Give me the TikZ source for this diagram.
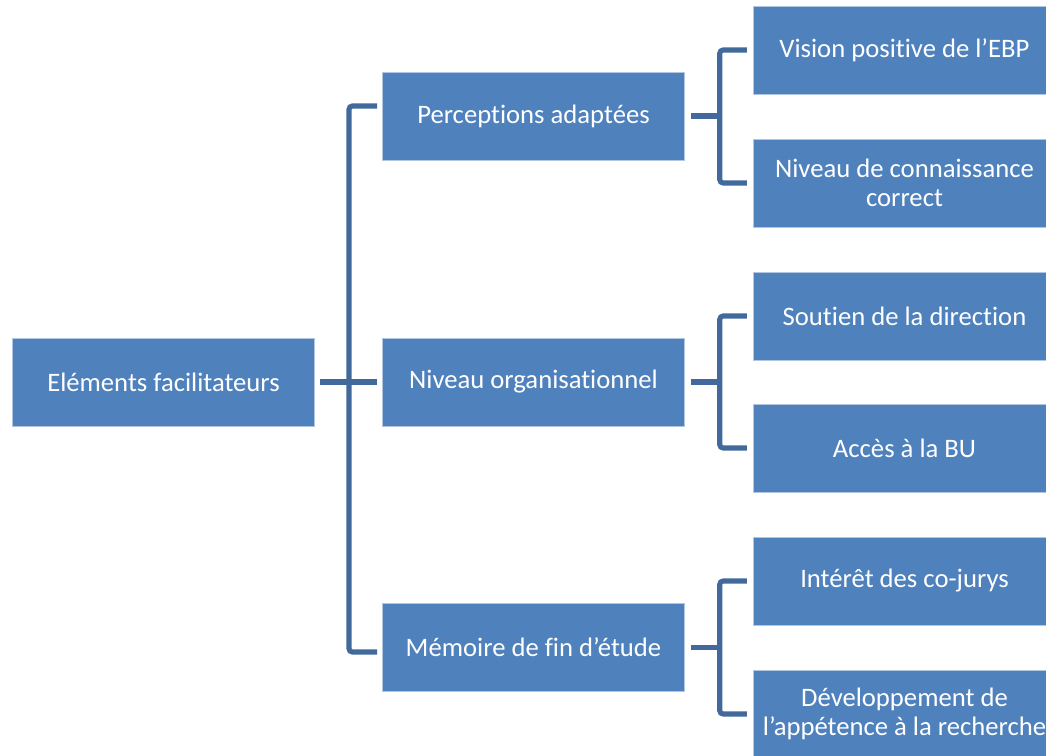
\documentclass[tikz,border=0pt]{standalone}
\usepackage{fontspec}
\setmainfont{Carlito}[Ligatures=NoCommon]
\usetikzlibrary{calc}
\definecolor{boxblue}{HTML}{4F81BD}
\definecolor{linkblue}{HTML}{41699C}
\begin{document}
\begin{tikzpicture}[x=0.75pt,y=-0.75pt,
    box/.style={rectangle,fill=boxblue,draw=white!55!boxblue,line width=0.6pt,
      text=white,minimum width=227pt,minimum height=66pt,inner sep=0pt,
      align=center,font=\fontsize{20}{22}\selectfont},
    link/.style={draw=linkblue,line width=3.8pt,rounded corners=2.5pt}]
  \useasboundingbox (0,0) rectangle (1046,756);

  \node[box] (root) at (163.5,382) {Eléments facilitateurs};
  \node[box] (perc) at (533.5,116) {Perceptions adaptées};
  \node[box] (orga) at (533.5,382) {Niveau organisationnel};
  \node[box] (mem) at (533.5,647.5) {Mémoire de fin d’étude};

  \node[box] (vision) at (904.5,50) {Vision positive de l’EBP};
  \node[box] (conn) at (904.5,183) {Niveau de connaissance\\correct};
  \node[box] (soutien) at (904.5,316) {Soutien de la direction};
  \node[box] (acces) at (904.5,448) {Accès à la BU};
  \node[box] (interet) at (904.5,581) {Intérêt des co-jurys};
  \node[box] (dev) at (904.5,714) {Développement de\\l’appétence à la recherche};

  \coordinate (spineT) at (349,106);
  \coordinate (spineB) at (349,652);
  \draw[link] ($(spineT)+(28,0)$) -- (spineT) -- (spineB) -- ($(spineB)+(28,0)$);
  \draw[link] ($(root.east)+(5,0)$) -- ($(orga.west)+(-5,0)$);

  \foreach \m/\a/\b in {perc/vision/conn,orga/soutien/acces,mem/interet/dev}{
    \draw[link] ($(\m.east)+(6,0)$) -- ($(\m.east)+(37,0)$);
    \draw[link] ($(\a.west)+(-6,0)$) -| ($(\b.west)+(-33,0)$) -- ($(\b.west)+(-6,0)$);
  }
\end{tikzpicture}
\end{document}
